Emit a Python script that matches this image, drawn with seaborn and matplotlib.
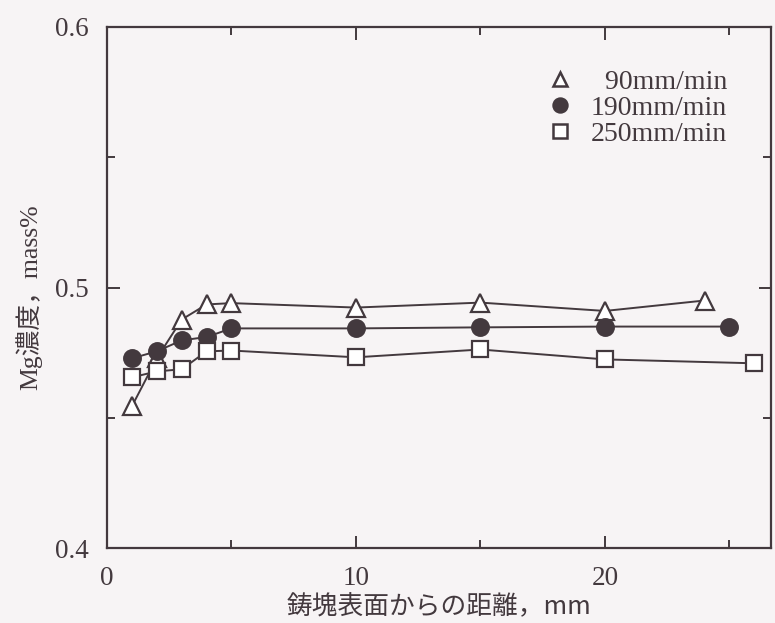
import matplotlib
matplotlib.use("Agg")
import matplotlib.pyplot as plt
import seaborn as sns
import pandas as pd
from matplotlib.ticker import MultipleLocator

# data
x_90 = [1, 2, 3, 4, 5, 10, 15, 20, 24]
y_90 = [0.4544, 0.4728, 0.4877, 0.4935, 0.4940, 0.4923, 0.4942, 0.4910, 0.4950]
x_190 = [1, 2, 3, 4, 5, 10, 15, 20, 25]
y_190 = [0.4728, 0.4755, 0.4797, 0.4810, 0.4843, 0.4843, 0.4847, 0.4850, 0.4850]
x_250 = [1, 2, 3, 4, 5, 10, 15, 20, 26]
y_250 = [0.4655, 0.4678, 0.4686, 0.4755, 0.4758, 0.4732, 0.4762, 0.4724, 0.4709]
labels = ["  90mm/min", "190mm/min", "250mm/min"]
xtick_vals = [0, 10, 20]
xtick_labels = ["0", "10", "20"]
ytick_vals = [0.4, 0.5, 0.6]
ytick_labels = ["0.4", "0.5", "0.6"]

sns.set_style("ticks")
ink = "#43393e"
bg = "#f7f4f5"
plt.rcParams['font.family'] = ['Liberation Serif', 'Noto Sans CJK JP']

fig = plt.figure(figsize=(7.75, 6.23), dpi=100, facecolor=bg)
ax = fig.add_axes([107/775, 1-548/623, (771-107)/775, (548-27)/623])
ax.set_facecolor(bg)

series = [
    (x_90, y_90, "^", "white", 13),
    (x_190, y_190, "o", ink, 12),
    (x_250, y_250, "s", "white", 12),
]
handles = []
for (xs, ys, m, fc, ms), lab in zip(series, labels):
    df = pd.DataFrame({"x": xs, "y": ys})
    sns.lineplot(data=df, x="x", y="y", ax=ax, color=ink, lw=1.4,
                 marker=m, markersize=ms, markerfacecolor=fc,
                 markeredgecolor=ink, markeredgewidth=1.6)
    h, = ax.plot([], [], ls="none", marker=m, markersize=10,
                 markerfacecolor=fc, markeredgecolor=ink, markeredgewidth=1.8)
    handles.append(h)

ax.set_xlim(0, 26.67)
ax.set_ylim(0.4, 0.6)
ax.xaxis.set_minor_locator(MultipleLocator(5))
ax.yaxis.set_minor_locator(MultipleLocator(0.05))
ax.set_xticks(xtick_vals)
ax.set_xticklabels(xtick_labels)
ax.set_yticks(ytick_vals)
ax.set_yticklabels(ytick_labels)
ax.tick_params(which="both", direction="in", top=True, right=True,
               color=ink, labelcolor=ink, labelsize=19.5, width=1.4)
ax.tick_params(which="major", length=9, pad=13)
ax.tick_params(which="minor", length=6)
for s in ax.spines.values():
    s.set_color(ink)
    s.set_linewidth(1.6)

ax.set_xlabel("鋳塊表面からの距離，mm", family=['Noto Sans CJK JP'],
              fontsize=18.5, color=ink)
ax.set_ylabel("Mg濃度，mass%", family=['Liberation Serif', 'Noto Sans CJK JP'],
              fontsize=18.5, color=ink)
ax.yaxis.set_label_coords(-(107-42)/664, (548-297)/521)
ax.xaxis.set_label_coords(0.5, -(594-548)/521)

leg = ax.legend(handles, labels, loc="upper right",
                bbox_to_anchor=((738-107)/664, (548-58)/521),
                borderaxespad=0, frameon=False, fontsize=20,
                handletextpad=0.6, labelspacing=0.02, handlelength=1.0)
for t in leg.get_texts():
    t.set_color(ink)

fig.savefig("out.png", dpi=100, facecolor=bg)
